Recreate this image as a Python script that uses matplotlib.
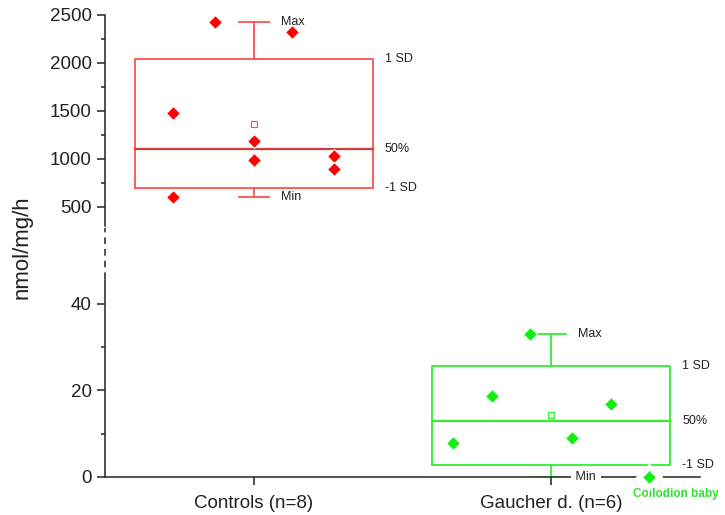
import numpy as np
import matplotlib
matplotlib.use("Agg")
import matplotlib.pyplot as plt
from matplotlib.lines import Line2D

plt.rcParams['font.family'] = ['Liberation Sans', 'DejaVu Sans']

groups = ["Controls (n=8)", "Gaucher d. (n=6)"]
controls = [2430, 2320, 1479, 1187, 993, 1028, 896, 601]
gaucher = [33.0, 18.7, 16.9, 7.9, 9.0, 0.0]
# horizontal scatter of the points inside each box
controls_jitter = [-0.13, 0.13, -0.27, 0.0, 0.0, 0.27, 0.27, -0.27]
gaucher_jitter = [-0.07, -0.2, 0.2, -0.33, 0.07, 0.33]

axis_col = "#333333"
fig = plt.figure(figsize=(7.25, 5.15), dpi=100)
ax_top = fig.add_axes([0.1448, 0.5612, 0.8207, 0.4097])
ax_bot = fig.add_axes([0.1448, 0.0738, 0.8207, 0.3825])


def draw_group(ax, xc, vals, jitter, box_col, med_col, pt_col, min_label=True):
    vals = np.array(vals)
    mean = vals.mean()
    sd = vals.std(ddof=1)
    med = np.median(vals)
    lo, hi = mean - sd, mean + sd
    w = 0.4
    ax.plot([xc - w, xc + w, xc + w, xc - w, xc - w], [lo, lo, hi, hi, lo],
            color=box_col, lw=1.3, zorder=2)
    ax.plot([xc - w, xc + w], [med, med], color=med_col, lw=1.6, zorder=2)
    ax.plot([xc, xc], [hi, vals.max()], color=box_col, lw=1.3)
    ax.plot([xc, xc], [lo, vals.min()], color=box_col, lw=1.3)
    for v in (vals.max(), vals.min()):
        ax.plot([xc - 0.05, xc + 0.05], [v, v], color=box_col, lw=1.3)
    ax.plot([xc], [mean], marker="s", ms=4, mfc="white", mec=box_col, mew=0.8, ls="none")
    ax.plot(xc + np.array(jitter), vals, marker="D", ms=7.5, color=pt_col,
            mec="white", mew=0.8, ls="none", zorder=4, clip_on=False)
    kw = dict(fontsize=9, va="center", ha="left", color="#222222")
    ax.text(xc + 0.09, vals.max(), "Max", **kw)
    if min_label:
        ax.text(xc + 0.09, vals.min(), "Min", **kw)
    ax.text(xc + w + 0.04, hi, "1 SD", **kw)
    ax.text(xc + w + 0.04, med, "50%", **kw)
    ax.text(xc + w + 0.04, lo, "-1 SD", **kw)


draw_group(ax_top, 1, controls, controls_jitter, "#ff5050", "#d83a3a", "#ff0000")
draw_group(ax_bot, 2, gaucher, gaucher_jitter, "#33ee33", "#33ee33", "#11ee11", min_label=False)

# labels sitting on the x axis hide the axis line behind them
ax_bot.text(2.07, min(gaucher), " Min ", fontsize=9, va="center", ha="left", color="#222222",
            zorder=5, clip_on=False,
            bbox=dict(boxstyle="square,pad=0.1", fc="white", ec="none"))
ax_bot.plot([2 + gaucher_jitter[-1]], [gaucher[-1]], marker="D", ms=13, color="white",
            ls="none", zorder=3.5, clip_on=False)
ax_bot.annotate("Collodion baby", (2 + gaucher_jitter[-1], gaucher[-1]), xytext=(-12, -12),
                textcoords="offset points", ha="left", va="center", fontsize=8.5,
                fontweight="bold", color="#33dd33", annotation_clip=False)

for ax in (ax_top, ax_bot):
    ax.set_xlim(0.5, 2.5)
    for s in ("top", "right"):
        ax.spines[s].set_visible(False)
    ax.spines["left"].set_color(axis_col)
    ax.spines["left"].set_linewidth(1.2)
    ax.tick_params(axis="y", which="both", direction="out", colors=axis_col,
                   labelsize=13.5, width=1.2, labelcolor="#222222")
    ax.tick_params(axis="y", which="major", length=6)
    ax.tick_params(axis="y", which="minor", length=3)

ax_top.set_ylim(300, 2500)
ax_top.set_yticks([500, 1000, 1500, 2000, 2500])
ax_top.set_yticks(np.arange(750, 2500, 500), minor=True)
ax_top.spines["bottom"].set_visible(False)
ax_top.set_xticks([])

ax_bot.set_ylim(0, 45.5)
ax_bot.set_yticks([0, 20, 40])
ax_bot.set_yticks([10, 30], minor=True)
ax_bot.spines["bottom"].set_color(axis_col)
ax_bot.spines["bottom"].set_linewidth(1.2)
ax_bot.set_xticks([1, 2])
ax_bot.set_xticklabels(groups)
ax_bot.tick_params(axis="x", direction="out", length=6, width=1.2, colors=axis_col,
                   labelsize=13.5, labelcolor="#222222", pad=7)

# broken axis marker
fig.add_artist(Line2D([0.1448, 0.1448], [0.459, 0.557], transform=fig.transFigure,
                      color=axis_col, lw=1.2, ls=(0, (4, 3))))

fig.text(0.030, 0.52, "nmol/mg/h", rotation=90, fontsize=16, va="center", ha="center",
         color="#222222")

fig.savefig("out.png", dpi=100)
